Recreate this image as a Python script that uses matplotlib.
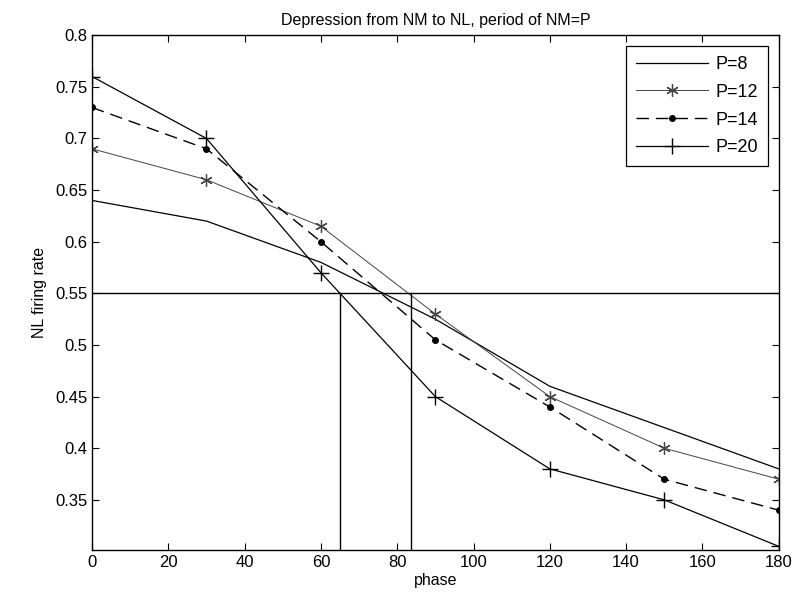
import matplotlib
matplotlib.use("Agg")
import matplotlib.pyplot as plt
import numpy as np

plt.rcParams['font.family'] = ['Liberation Sans', 'DejaVu Sans']

phase = [0, 30, 60, 90, 120, 150, 180]
rate_p8 = [0.64, 0.62, 0.58, 0.525, 0.46, 0.42, 0.38]
rate_p12 = [0.69, 0.66, 0.615, 0.53, 0.45, 0.40, 0.37]
rate_p14 = [0.73, 0.69, 0.60, 0.505, 0.44, 0.37, 0.34]
rate_p20 = [0.76, 0.70, 0.57, 0.45, 0.38, 0.35, 0.305]

threshold = 0.55
cross_phases = [65, 83.7]

fig = plt.figure(figsize=(7.93, 6.07), dpi=100)
ax = fig.add_axes([0.116, 0.094, 0.866, 0.848])

# asterisk marker like matlab's '*'
asterisk = (6, 2, 0)

ax.plot(phase, rate_p8, '-', color='black', lw=0.9, label='P=8')
ax.plot(phase, rate_p12, '-', color='#444444', lw=0.7, marker=asterisk,
        ms=9, mew=0.9, label='P=12')
ax.plot(phase, rate_p14, '--', color='black', lw=1.0, marker='.', ms=8,
        dashes=(9, 5), label='P=14')
ax.plot(phase, rate_p20, '-', color='black', lw=0.9, marker='+', ms=12,
        mew=1.0, label='P=20')

# threshold line and the phases where it is crossed
ax.plot([0, 180], [threshold, threshold], color='black', lw=1.0)
ylo = 0.3015
for xp in cross_phases:
    ax.plot([xp, xp], [ylo, threshold], color='black', lw=1.0)

ax.set_xlim(0, 180)
ax.set_ylim(ylo, 0.8)
ax.set_xticks(np.arange(0, 181, 20))
ax.set_yticks(np.arange(0.35, 0.801, 0.05))
ax.set_yticklabels(['0.35', '0.4', '0.45', '0.5', '0.55', '0.6', '0.65',
                    '0.7', '0.75', '0.8'])
ax.tick_params(direction='in', top=True, right=True, length=5,
               labelsize=12, width=0.8)
for s in ax.spines.values():
    s.set_linewidth(1.0)

ax.set_title('Depression from NM to NL, period of NM=P', fontsize=11.5, pad=7)
ax.set_xlabel('phase', fontsize=11.5, labelpad=2)
ax.set_ylabel('NL firing rate', fontsize=11.5, labelpad=6)

leg = ax.legend(loc='upper right', fontsize=13, fancybox=False,
                edgecolor='black', framealpha=1, handlelength=4.0,
                borderaxespad=0.6, labelspacing=0.6, handletextpad=0.4,
                borderpad=0.55, numpoints=1)
leg.get_frame().set_linewidth(0.9)

fig.savefig('out.png', dpi=100)
